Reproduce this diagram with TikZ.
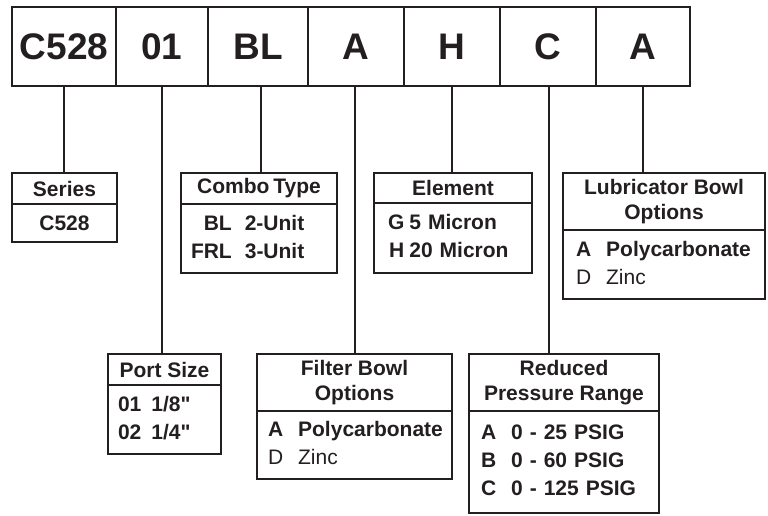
\documentclass[tikz,border=0pt]{standalone}
\usepackage{fontspec}
\setmainfont{Liberation Sans}
\usepackage{xcolor}
\usetikzlibrary{positioning,calc}

\definecolor{ink}{RGB}{35,31,32}

\begin{document}
\begin{tikzpicture}[x=1pt,y=-1pt,
    line width=2pt,draw=ink,text=ink,
    cell/.style={rectangle,draw,minimum height=79pt,inner sep=0pt,
        font=\fontsize{37}{40}\selectfont\bfseries},
    head/.style={rectangle,draw,inner sep=0pt,outer sep=0pt,align=center,
        font=\fontsize{21}{25}\selectfont\bfseries},
    body/.style={rectangle,draw,inner sep=0pt,outer sep=0pt,align=left,
        font=\fontsize{21}{28}\selectfont\bfseries},
    stem/.style={line width=2pt}]
    \useasboundingbox (0,0) rectangle (768,516);

    % Model number cells
    \node[cell,minimum width=104pt] (cSeries) at (64,46.5) {C528};
    \node[cell,minimum width=92pt] (cPort) at (162,46.5) {01};
    \node[cell,minimum width=100pt] (cCombo) at (258,46.5) {BL};
    \node[cell,minimum width=96pt] (cFilter) at (356,46.5) {A};
    \node[cell,minimum width=96pt] (cElem) at (452,46.5) {H};
    \node[cell,minimum width=96pt] (cPress) at (548,46.5) {C};
    \node[cell,minimum width=94pt] (cLube) at (643,46.5) {A};

    % Series
    \node[head,minimum width=105pt,minimum height=31pt] (hSeries) at (64.5,188.5) {Series};
    \node[body,minimum width=105pt,minimum height=38pt,below=0pt of hSeries,align=center] (bSeries) {C528};

    % Combo type
    \node[head,minimum width=156pt,minimum height=31pt] (hCombo) at (259,188.5) {Combo\hspace{-2pt} Type};
    \node[body,minimum width=156pt,minimum height=69pt,below=0pt of hCombo,text width=136pt] (bCombo)
        {\begin{tabular}{@{}r@{\hspace{13pt}}l@{}}BL & 2-Unit\\FRL & 3-Unit\end{tabular}};

    % Element
    \node[head,minimum width=158pt,minimum height=30pt] (hElem) at (453,188) {Element};
    \node[body,minimum width=158pt,minimum height=70pt,below=0pt of hElem,text width=130pt] (bElem)
        {\begin{tabular}{@{}r@{\hspace{5pt}}l@{}}G & 5 Micron\\H & 20 Micron\end{tabular}};

    % Lubricator bowl options
    \node[head,minimum width=202pt,minimum height=57pt] (hLube) at (664,201.5) {Lubricator Bowl\\Options};
    \node[body,minimum width=202pt,minimum height=69pt,below=0pt of hLube,text width=176pt] (bLube)
        {\begin{tabular}{@{}l@{\hspace{15pt}}l@{}}A & Polycarbonate\\\mdseries D & \mdseries Zinc\end{tabular}};

    % Port size
    \node[head,minimum width=113pt,minimum height=31pt] (hPort) at (164.5,369.5) {Port Size};
    \node[body,minimum width=113pt,minimum height=69pt,below=0pt of hPort,text width=93pt] (bPort)
        {\begin{tabular}{@{}l@{\hspace{10pt}}l@{}}01 & 1/8\textquotedbl\\02 & 1/4\textquotedbl\end{tabular}};

    % Filter bowl options
    \node[head,minimum width=195pt,minimum height=57pt] (hFilter) at (354.5,382.5) {Filter Bowl\\Options};
    \node[body,minimum width=195pt,minimum height=68pt,below=0pt of hFilter,text width=173pt] (bFilter)
        {\begin{tabular}{@{}l@{\hspace{15pt}}l@{}}A & Polycarbonate\\\mdseries D & \mdseries Zinc\end{tabular}};

    % Reduced pressure range
    \node[head,minimum width=190pt,minimum height=57pt] (hPress) at (564,382.5) {Reduced\\Pressure Range};
    \node[body,minimum width=190pt,minimum height=102pt,below=0pt of hPress,text width=166pt] (bPress)
        {\begin{tabular}{@{}l@{\hspace{15pt}}l@{}}A & 0 - 25 PSIG\\B & 0 - 60 PSIG\\C & 0 - 125 PSIG\end{tabular}};

    % Stems
    \draw[stem] (cSeries.south) -- (cSeries.south |- hSeries.north);
    \draw[stem] (cPort.south) -- (cPort.south |- hPort.north);
    \draw[stem] ([xshift=3pt]cCombo.south) -- ([xshift=3pt]cCombo.south |- hCombo.north);
    \draw[stem] ([xshift=-1pt]cFilter.south) -- ([xshift=-1pt]cFilter.south |- hFilter.north);
    \draw[stem] (cElem.south) -- (cElem.south |- hElem.north);
    \draw[stem] ([xshift=1pt]cPress.south) -- ([xshift=1pt]cPress.south |- hPress.north);
    \draw[stem] (cLube.south) -- (cLube.south |- hLube.north);
\end{tikzpicture}
\end{document}
